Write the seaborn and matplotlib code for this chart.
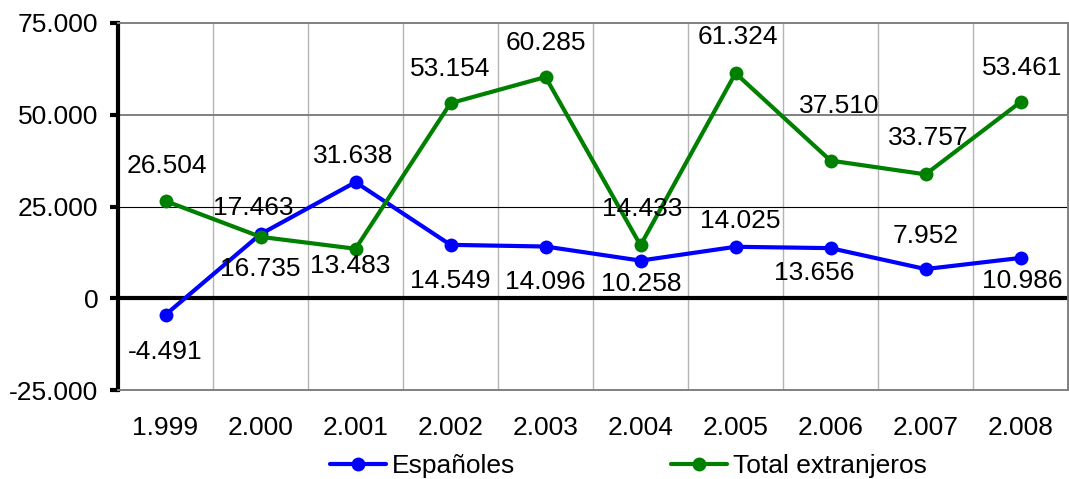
import matplotlib
matplotlib.use("Agg")

import matplotlib.pyplot as plt
import numpy as np
import pandas as pd
import seaborn as sns

# data
years = ["1.999", "2.000", "2.001", "2.002", "2.003",
         "2.004", "2.005", "2.006", "2.007", "2.008"]
espanoles = [-4491, 17463, 31638, 14549, 14096, 10258, 14025, 13656, 7952, 10986]
extranjeros = [26504, 16735, 13483, 53154, 60285, 14433, 61324, 37510, 33757, 53461]
series_names = ["Españoles", "Total extranjeros"]
y_ticks = [-25000, 0, 25000, 50000, 75000]

# label offsets in pixels (dx, dy), screen up is positive
esp_offsets = [(0, -37), (-7, 26), (-2, 26), (0, -36), (0, -35),
               (1, -23), (5, 26), (-16, -25), (0, 33), (2, -23)]
ext_offsets = [(1, 35), (0, -32), (-5, -17), (0, 34), (0, 34),
               (2, 36), (2, 36), (9, 55), (3, 36), (2, 34)]

colors = {"Españoles": "#0000ff", "Total extranjeros": "#008000"}
FS = 19


def fmt(v):
    return f"{v:,}".replace(",", ".")


df = pd.DataFrame({
    "year": years * 2,
    "value": espanoles + extranjeros,
    "serie": [series_names[0]] * len(years) + [series_names[1]] * len(years),
})

sns.set_theme(style="white")
plt.rcParams["font.family"] = ["Liberation Sans", "DejaVu Sans"]
plt.rcParams["text.color"] = "black"
plt.rcParams["xtick.color"] = "black"
plt.rcParams["ytick.color"] = "black"

fig = plt.figure(figsize=(10.69, 4.79), dpi=100)
ax = fig.add_axes([118 / 1069, 1 - 390 / 479, 950 / 1069, 367 / 479])

sns.lineplot(data=df, x="year", y="value", hue="serie", palette=colors,
             marker="o", markersize=10, linewidth=3, markeredgewidth=0,
             sort=False, ax=ax, legend=True, zorder=3)

ax.set_xlim(-0.5, len(years) - 0.5)
ax.set_ylim(-25000, 75000)
ax.set_yticks(y_ticks)
ax.set_yticklabels([fmt(t) for t in y_ticks], fontsize=FS)
ax.set_xticks(range(len(years)))
ax.set_xticklabels(years, fontsize=FS)
ax.set_xlabel("")
ax.set_ylabel("")

# category boundaries as light vertical grid
ax.set_xticks(np.arange(-0.5, len(years), 1), minor=True)
ax.grid(which="minor", axis="x", color="#b4b4b4", linewidth=1)
ax.axhline(50000, color="#808080", linewidth=1.4, zorder=1)
ax.axhline(25000, color="black", linewidth=0.8, zorder=1)
ax.axhline(0, color="black", linewidth=3, zorder=2)

ax.tick_params(axis="y", which="major", length=6, width=3, color="black",
               direction="out", pad=8, left=True)
ax.tick_params(axis="x", which="both", length=0, pad=19)
ax.tick_params(axis="y", which="minor", length=0)

for side in ["top", "right", "bottom"]:
    ax.spines[side].set_color("#808080")
    ax.spines[side].set_linewidth(1.4)
ax.spines["left"].set_color("black")
ax.spines["left"].set_linewidth(3)

for vals, offs in [(espanoles, esp_offsets), (extranjeros, ext_offsets)]:
    for i, (v, (dx, dy)) in enumerate(zip(vals, offs)):
        ax.annotate(fmt(v), (i, v), xytext=(dx, dy), textcoords="offset pixels",
                    ha="center", va="center", fontsize=FS, color="black", zorder=4)

handles, labels = ax.get_legend_handles_labels()
ax.legend_.remove()
fig.legend(handles, labels, loc="center", bbox_to_anchor=(628 / 1069, 0.027),
           ncol=2, frameon=False, fontsize=FS, handlelength=2.15,
           columnspacing=5.9, handletextpad=0.2, borderpad=0)

fig.savefig("out.png", dpi=100)
